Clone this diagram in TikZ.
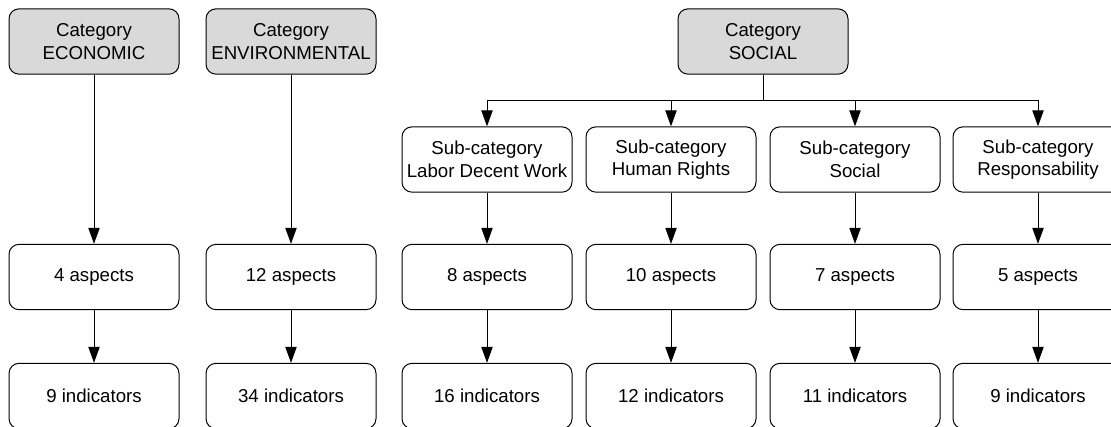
\documentclass[tikz,border=0pt]{standalone}
\usepackage{fontspec}
\setmainfont{Liberation Sans}
\usetikzlibrary{arrows.meta}

\tikzset{
    box/.style={draw, line width=0.75pt, rounded corners=7.5pt, minimum width=127.5pt, minimum height=49pt, align=center, inner sep=2pt, font=\fontsize{14}{17}\selectfont},
    catbox/.style={box, fill={rgb,255:red,217;green,217;blue,217}},
    link/.style={line width=0.75pt},
    arrowlink/.style={link, -{Triangle[length=12pt,width=8.5pt]}}
}

\begin{document}
\begin{tikzpicture}[x=0.75pt,y=0.75pt,yscale=-1,xscale=1]
    \useasboundingbox (0,0) rectangle (1111,426);
    \clip (0,0) rectangle (1111,426);

    % Categories
    \node [catbox] (eco) at (94,41.5) {Category\\ECONOMIC};
    \node [catbox] (env) at (291,41.5) {Category\\ENVIRONMENTAL};
    \node [catbox] (soc) at (763,41.5) {Category\\SOCIAL};

    % Sub-categories
    \node [box] (labor) at (487,159.5) {Sub-category\\Labor Decent Work};
    \node [box] (human) at (671,159.5) {Sub-category\\Human Rights};
    \node [box] (social) at (855,159.5) {Sub-category\\Social};
    \node [box] (resp) at (1038,159.5) {Sub-category\\Responsability};

    % Aspects
    \node [box] (ecoasp) at (94,277) {4 aspects};
    \node [box] (envasp) at (291,277) {12 aspects};
    \node [box] (laborasp) at (487,277) {8 aspects};
    \node [box] (humanasp) at (671,277) {10 aspects};
    \node [box] (socialasp) at (855,277) {7 aspects};
    \node [box] (respasp) at (1038,277) {5 aspects};

    % Indicators
    \node [box] (ecoind) at (94,396) {9 indicators};
    \node [box] (envind) at (291,396) {34 indicators};
    \node [box] (laborind) at (487,396) {16 indicators};
    \node [box] (humanind) at (671,396) {12 indicators};
    \node [box] (socialind) at (855,396) {11 indicators};
    \node [box] (respind) at (1038,396) {9 indicators};

    % Fork under SOCIAL
    \coordinate (fork) at (763,100);
    \draw [link] (soc.south) -- (fork);
    \foreach \sub in {labor,human,social,resp}
        \draw [arrowlink] (fork) -| (\sub.north);

    % Columns
    \draw [arrowlink] (eco.south) -- (ecoasp.north);
    \draw [arrowlink] (env.south) -- (envasp.north);
    \foreach \col in {labor,human,social,resp}
        \draw [arrowlink] (\col.south) -- (\col asp.north);
    \foreach \col in {eco,env,labor,human,social,resp}
        \draw [arrowlink] (\col asp.south) -- (\col ind.north);

\end{tikzpicture}
\end{document}
